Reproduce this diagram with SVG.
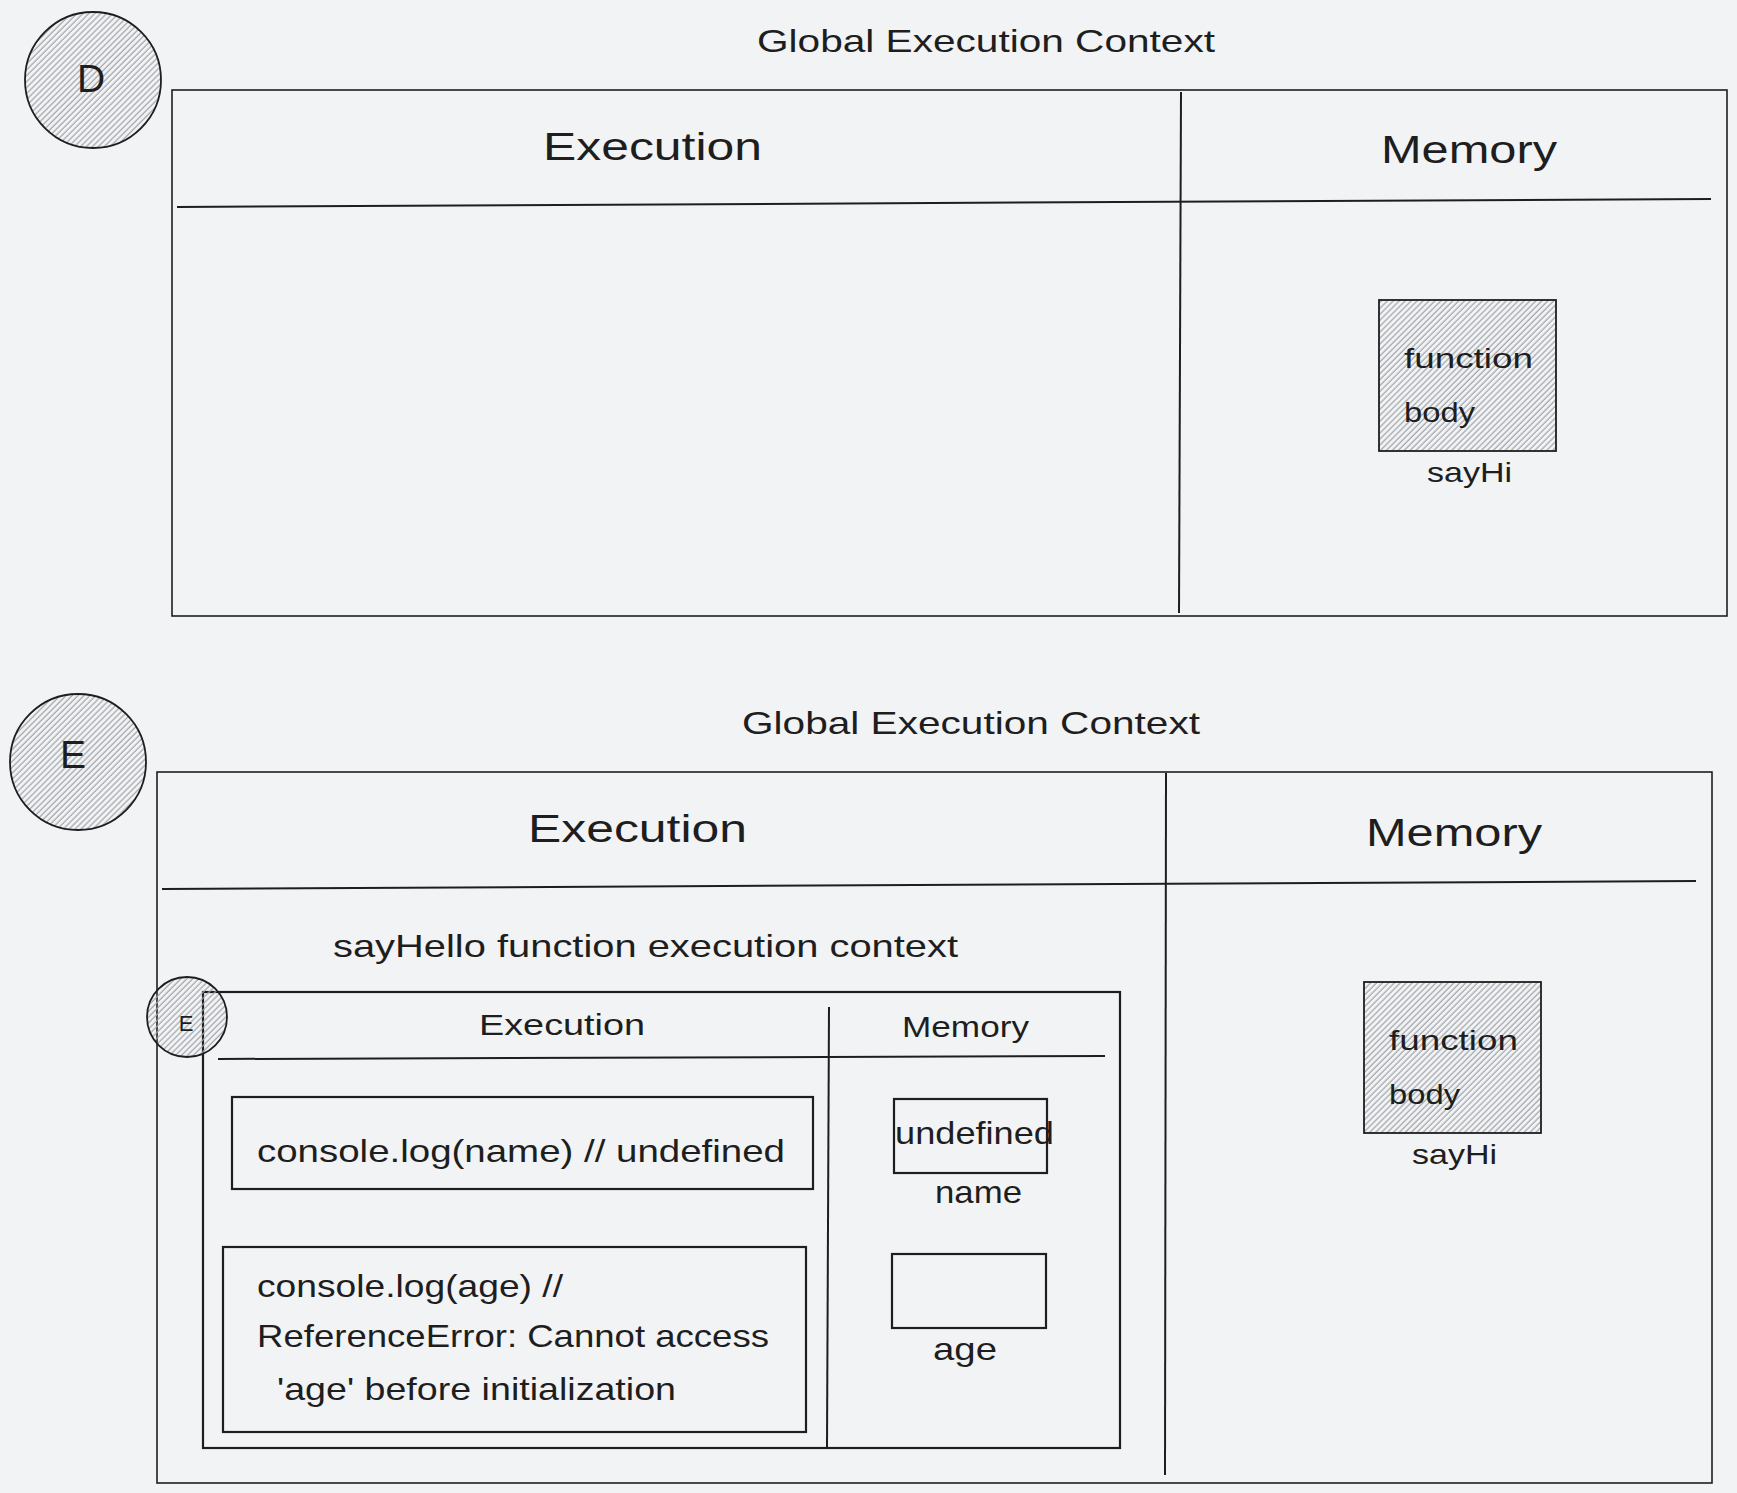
<svg xmlns="http://www.w3.org/2000/svg" width="1737" height="1493" viewBox="0 0 1737 1493">
<defs>
<pattern id="hatch" patternUnits="userSpaceOnUse" width="4.2" height="4.2" patternTransform="rotate(45)">
<line x1="1" y1="0" x2="1" y2="4.2" stroke="#9fa3a9" stroke-width="1.2"/>
</pattern>
<style>
.bg{fill:#f2f3f5}
.frame{fill:none;stroke:#1e1e1e;stroke-width:1.6}
.box{fill:none;stroke:#1e1e1e;stroke-width:2.2}
.hatched{fill:url(#hatch);stroke:#1e1e1e;stroke-width:1.8}
.ln{stroke:#1e1e1e;stroke-width:2;fill:none}
text{font-family:"Liberation Sans","Noto Sans",sans-serif;fill:#1e1e1e}
.t40{font-size:39px}
.t32{font-size:32px}
.t30{font-size:30px}
.t28{font-size:28px}
.t22{font-size:22px}
</style>
</defs>
<rect class="bg" x="0" y="0" width="1737" height="1493"/>

<!-- Section D -->
<g id="badge-d">
<circle class="hatched" cx="93" cy="80" r="68"/>
<text class="t40" x="91" y="92" text-anchor="middle">D</text>
</g>
<g id="title-d">
<text class="t32" x="757" y="52" textLength="458" lengthAdjust="spacingAndGlyphs">Global Execution Context</text>
</g>
<g id="gec-d">
<rect class="frame" x="172" y="90" width="1555" height="526"/>
<line class="ln" x1="1181" y1="92" x2="1179" y2="613"/>
<line class="ln" x1="177" y1="207" x2="1711" y2="199"/>
<text class="t40" x="543" y="160" textLength="219" lengthAdjust="spacingAndGlyphs">Execution</text>
<text class="t40" x="1381" y="163" textLength="176" lengthAdjust="spacingAndGlyphs">Memory</text>
</g>
<g id="fn-d">
<rect class="hatched" x="1379" y="300" width="177" height="151"/>
<text class="t28" x="1404" y="368" textLength="129" lengthAdjust="spacingAndGlyphs">function</text>
<text class="t28" x="1404" y="422" textLength="71" lengthAdjust="spacingAndGlyphs">body</text>
<text class="t28" x="1427" y="482" textLength="85" lengthAdjust="spacingAndGlyphs">sayHi</text>
</g>

<!-- Section E -->
<g id="badge-e">
<circle class="hatched" cx="78" cy="762" r="68"/>
<text class="t40" x="73" y="768" text-anchor="middle">E</text>
</g>
<g id="title-e">
<text class="t32" x="742" y="734" textLength="458" lengthAdjust="spacingAndGlyphs">Global Execution Context</text>
</g>
<g id="gec-e">
<rect class="frame" x="157" y="772" width="1555" height="711"/>
<line class="ln" x1="1166" y1="773" x2="1165" y2="1475"/>
<line class="ln" x1="162" y1="889" x2="1696" y2="881"/>
<text class="t40" x="528" y="842" textLength="219" lengthAdjust="spacingAndGlyphs">Execution</text>
<text class="t40" x="1366" y="846" textLength="176" lengthAdjust="spacingAndGlyphs">Memory</text>
</g>
<g id="fn-e">
<rect class="hatched" x="1364" y="982" width="177" height="151"/>
<text class="t28" x="1389" y="1050" textLength="129" lengthAdjust="spacingAndGlyphs">function</text>
<text class="t28" x="1389" y="1104" textLength="71" lengthAdjust="spacingAndGlyphs">body</text>
<text class="t28" x="1412" y="1164" textLength="85" lengthAdjust="spacingAndGlyphs">sayHi</text>
</g>

<g id="sayhello-title">
<text class="t32" x="333" y="957" textLength="625" lengthAdjust="spacingAndGlyphs">sayHello function execution context</text>
</g>
<g id="sayhello-ctx">
<rect class="box" x="203" y="992" width="917" height="456"/>
<line class="ln" x1="829" y1="1007" x2="827" y2="1447"/>
<line class="ln" x1="218" y1="1059" x2="1105" y2="1056"/>
<text class="t30" x="479" y="1035" textLength="166" lengthAdjust="spacingAndGlyphs">Execution</text>
<text class="t30" x="902" y="1037" textLength="127" lengthAdjust="spacingAndGlyphs">Memory</text>
</g>
<g id="badge-e-small">
<circle class="hatched" cx="187" cy="1017" r="40"/>
<text class="t22" x="186" y="1031" text-anchor="middle">E</text>
</g>
<g id="stmt-name">
<rect class="box" x="232" y="1097" width="581" height="92"/>
<text class="t32" x="257" y="1162" textLength="528" lengthAdjust="spacingAndGlyphs">console.log(name) // undefined</text>
</g>
<g id="stmt-age">
<rect class="box" x="223" y="1247" width="583" height="185"/>
<text class="t32" x="257" y="1297" textLength="306" lengthAdjust="spacingAndGlyphs">console.log(age) //</text>
<text class="t32" x="257" y="1347" textLength="512" lengthAdjust="spacingAndGlyphs">ReferenceError: Cannot access</text>
<text class="t32" x="277" y="1400" textLength="399" lengthAdjust="spacingAndGlyphs">'age' before initialization</text>
</g>
<g id="mem-name">
<rect class="box" x="894" y="1099" width="153" height="74"/>
<text class="t32" x="895" y="1144" textLength="159" lengthAdjust="spacingAndGlyphs">undefined</text>
<text class="t32" x="935" y="1203" textLength="87" lengthAdjust="spacingAndGlyphs">name</text>
</g>
<g id="mem-age">
<rect class="box" x="892" y="1254" width="154" height="74"/>
<text class="t32" x="933" y="1360" textLength="64" lengthAdjust="spacingAndGlyphs">age</text>
</g>
<g id="connectors"/>
</svg>
